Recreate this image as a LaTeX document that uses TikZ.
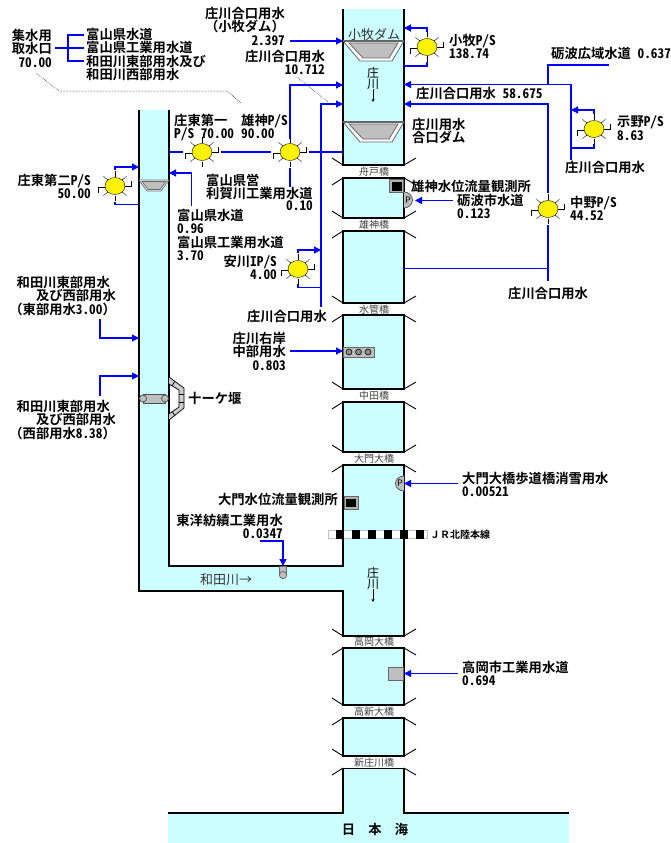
\documentclass[tikz,border=0pt]{standalone}
\usepackage{fontspec}
\setmainfont{Noto Sans CJK JP}
\newfontfamily\jpb[RawFeature=+hwid]{Noto Sans CJK JP Bold}
\newfontfamily\jpk{Noto Sans CJK JP Bold}
\newfontfamily\jpr{Noto Sans CJK JP}
\usetikzlibrary{arrows.meta,shapes.geometric}
\definecolor{river}{HTML}{CCFFFF}
\definecolor{pipe}{HTML}{0000FF}
\tikzset{
    lbl/.style={inner sep=0pt,font=\jpb\fontsize{13.3}{13.3}\selectfont,anchor=north west,align=left},
    lblr/.style={lbl,anchor=north east,align=right},
    brg/.style={inner sep=0pt,font=\jpr\fontsize{10}{10}\selectfont,text=black!75},
    pipeline/.style={draw=pipe,line width=1.2pt},
    pipearrow/.style={pipeline,-{Triangle[length=7pt,width=7pt]}},
    bank/.style={draw=black,line width=1.2pt},
    sun/.style={ellipse,draw=black,fill=yellow,minimum width=20pt,minimum height=17pt,inner sep=0pt},
    gauge/.style={draw=black!60,line width=.8pt,fill=black!30},
    weir/.style={draw=black!60,fill=black!25,line width=.8pt}
}
% pump station: position, name
\newcommand{\pumpsun}[2]{
    \node[sun] (#2) at #1 {};
    \foreach \a in {40,90,140,220,270,320}
    {
        \draw[black] (#2) ++(\a:9.5) -- ++(\a:5.5);
    }
    \draw[black,line width=.9pt] (#2.180) ++(0,1) -- ++(-6,0) -- ++(0,6);
    \draw[black,line width=.9pt] (#2.0) -- ++(6,0) -- ++(0,-5);
}
% section of the main river: top, bottom
\newcommand{\sect}[2]{
    \fill[river] (343,#1) rectangle (404,#2);
    \draw[bank] (343,#1) rectangle (404,#2);
    \draw[black,line width=.9pt] (343,#1) -- (332,#1+7);
    \draw[black,line width=.9pt] (404,#1) -- (416,#1+7);
    \draw[black,line width=.9pt] (343,#2) -- (332,#2-7);
    \draw[black,line width=.9pt] (404,#2) -- (416,#2-7);
}
\begin{document}
\begin{tikzpicture}[x=1pt,y=-1pt]
    \useasboundingbox (0,0) rectangle (670,843);
    % water
    \fill[river] (168,813) rectangle (569,843);
    \fill[river] (343,768) rectangle (404,813);
    \fill[river] (139,110) -- (169,110) -- (169,566) -- (343,566) -- (343,591) -- (139,591) -- cycle;
    \fill[river] (343,9) rectangle (404,165);
    \sect{178}{218}
    \sect{231}{303}
    \sect{315}{389}
    \sect{402}{452}
    \sect{465}{636}
    \sect{648}{705}
    \sect{718}{756}
    % banks with openings
    \fill[river] (342,567) rectangle (344,590);
    \draw[bank] (343,9) -- (343,165) -- (404,165) -- (404,9);
    \draw[black,line width=.9pt] (343,165) -- (332,158) (404,165) -- (416,158);
    \draw[bank] (139,110) -- (139,591) -- (343,591);
    \draw[bank] (169,110) -- (169,566) -- (343,566);
    \draw[black,line width=.6pt] (343,768) -- (404,768);
    \draw[bank] (343,768) -- (343,813) -- (168,813);
    \draw[bank] (404,768) -- (404,813) -- (569,813);
    \draw[black,line width=.9pt] (343,768) -- (332,775) (404,768) -- (416,775);
    % dams
    \foreach \y in {41,122}
    {
        \draw[draw=black!60,fill=white,line width=.8pt] (343,\y) -- (404,\y) -- (392,\y+20) -- (360,\y+20) -- cycle;
        \draw[draw=black!60,fill=black!25,line width=.8pt] (349,\y+2) -- (398,\y+2) -- (389,\y+17) -- (363,\y+17) -- cycle;
        \draw[black!60,line width=1.2pt] (343,\y) -- (404,\y);
    }
    \draw[draw=black!60,fill=white,line width=.7pt] (139,180) -- (169,180) -- (161,191) -- (147,191) -- cycle;
    \draw[draw=black!60,fill=black!25,line width=.7pt] (142,181.5) -- (166,181.5) -- (160,189.5) -- (148,189.5) -- cycle;
    % weir on Wada river
    \draw[draw=black!70,fill=black!25,line width=.7pt] (143,394) rectangle (165,403);
    \draw[draw=black!70,fill=black!25,line width=.7pt] (143,398.5) circle (3.5);
    \draw[draw=black!70,fill=black!25,line width=.7pt] (165,398.5) circle (3.5);
    \fill[black!20] (169,377) -- (184,388) -- (184,408) -- (169,420) -- (169,414) -- (179,407) -- (179,390) -- (169,384) -- cycle;
    \draw[black,line width=.7pt] (169,377) -- (184,388) -- (184,408) -- (169,420);
    \draw[black,line width=.7pt] (169,384) -- (179,390) -- (179,407) -- (169,414);
    \foreach \y in {394,402}
    {
        \draw[black,line width=.7pt] (179,\y) -- (184,\y);
    }
    \draw[black,line width=.7pt] (175,381) -- (172,386) (175,416) -- (172,411);
    % gauges and intakes
    \draw[gauge] (389.5,179.5) rectangle (403.5,192.5);
    \fill[black] (391.5,181.5) rectangle (401.5,190.5);
    \draw[gauge] (344,496.5) rectangle (358,509);
    \fill[black] (346,498.5) rectangle (356,507);
    \draw[draw=black!70,fill=black!25,line width=.7pt] (404,192) arc (-90:90:8.5 and 8);
    \node[inner sep=0pt,font=\jpr\fontsize{9}{9}\selectfont] (pToga) at (408,200) {P};
    \draw[draw=black!70,fill=black!25,line width=.7pt] (404,476) arc (-90:-270:8.5 and 7.5);
    \node[inner sep=0pt,font=\jpr\fontsize{9}{9}\selectfont] (pDaimon) at (400,483.5) {P};
    \draw[draw=black!60,fill=black!25,line width=.8pt] (343.5,347) rectangle (374,357);
    \foreach \x in {349,358.5,368}
    {
        \draw[fill=black!45,line width=.6pt] (\x,352) circle (3);
    }
    \draw[draw=black!60,fill=black!25,line width=.8pt] (388.5,667) rectangle (403.5,680);
    \draw[draw=black!60,fill=black!25,line width=.7pt] (279.5,566) rectangle (286.5,573);
    \draw[draw=black!60,fill=black!25,line width=.7pt] (283,575) circle (3.7);
    % railway
    \draw[draw=black!25,fill=white,line width=.5pt] (328,530) rectangle (427,538.5);
    \draw[black] (343,530) -- (343,538.5);
    \draw[black] (404,530) -- (404,538.5);
    \foreach \x in {336,352,...,416}
    {
        \fill[black] (\x,530) rectangle (\x+8,538.5);
    }
    \node[inner sep=0pt,anchor=west,font=\jpk\fontsize{10}{10}\selectfont] (lRail) at (430,534.5) {ＪＲ北陸本線};
    % pump stations
    \pumpsun{(202,152)}{psShotoA}
    \pumpsun{(290,152)}{psOgami}
    \pumpsun{(115,186)}{psShotoB}
    \pumpsun{(427,47)}{psKomaki}
    \pumpsun{(594,129)}{psShimeno}
    \pumpsun{(548,209)}{psNakano}
    \pumpsun{(298,269)}{psYasukawa}
    % pipes
    \coordinate (a1) at (169,152);
    \coordinate (a2) at (343,152);
    \draw[pipeline] (a1) -- (183,152) (221,152) -- (271,152) (309,152) -- (a2);
    \draw[pipeline] (290,168) -- (290,187);
    \draw[pipearrow] (290,139) -- (290,85) -- (343,85);
    \draw[pipearrow] (290,41) -- (343,41);
    \draw[pipearrow] (321,307) -- (321,104) -- (343,104);
    \draw[pipearrow] (191.5,206) -- (191.5,173) -- (169,173);
    \draw[pipearrow] (115,170) -- (115,167) -- (139,167);
    \draw[pipeline] (115,202) -- (115,204.5) -- (139,204.5);
    \draw[pipearrow] (427,32) -- (427,28) -- (404,28);
    \draw[pipeline] (427,62) -- (427,66) -- (404,66);
    \draw[pipearrow] (609,65) -- (548,65) -- (548,84.5) -- (404,84.5);
    \draw[pipeline] (548,84.5) -- (571,84.5) -- (571,160);
    \draw[pipearrow] (594,114) -- (594,110) -- (571,110);
    \draw[pipeline] (594,144) -- (594,148) -- (571,148);
    \draw[pipearrow] (548,193) -- (548,104) -- (404,104);
    \draw[pipeline] (548,225) -- (548,281);
    \draw[pipeline] (404,268.7) -- (548,268.7);
    \draw[pipearrow] (453,200.5) -- (415,200.5);
    \draw[pipearrow] (458,483.5) -- (404,483.5);
    \draw[pipearrow] (458,673.5) -- (404,673.5);
    \draw[pipearrow] (290,351) -- (343,351);
    \draw[pipearrow] (298,253) -- (298,250) -- (321,250);
    \draw[pipeline] (298,284) -- (298,287.5) -- (321,287.5);
    \draw[pipearrow] (100,319) -- (100,338) -- (139,338);
    \draw[pipearrow] (100,396) -- (100,376) -- (139,376);
    \draw[pipearrow] (260,541) -- (283,541) -- (283,566);
    \draw[pipeline] (55,48) -- (84,48) (84,35) -- (68,35) -- (68,61) -- (84,61);
    % leaders
    \draw[densely dotted,line width=.5pt] (36,73) -- (59,91) -- (227,91) -- (241,103);
    \draw[densely dotted,line width=.5pt] (297,77) -- (328,102);
    % labels
    \node[lblr] (lIntake) at (52,29) {集水用\\取水口\\70.00};
    \node[lbl] (lIntakeUse) at (86,28) {富山県水道\\富山県工業用水道\\和田川東部用水及び\\和田川西部用水};
    \node[lblr] (lKomakiGo) at (285,7) {庄川合口用水\\{\jpk（小牧ダム）}\\2.397};
    \node[lblr] (lGo10) at (325,50) {庄川合口用水\\10.712};
    \node[lbl] (lShotoA) at (174,114) {庄東第一\\P/S 70.00};
    \node[lbl] (lOgami) at (241,114) {雄神P/S\\90.00};
    \node[lblr] (lShotoB) at (91,174) {庄東第二P/S\\50.00};
    \node[lbl] (lToga) at (206,174) {富山県営\\利賀川工業用水道};
    \node[lblr] (lTogaVal) at (313,201) {0.10};
    \node[lbl] (lToyama) at (177,209) {富山県水道\\0.96\\富山県工業用水道\\3.70};
    \node[lblr] (lYasukawa) at (277,255) {安川IP/S\\4.00};
    \node[lblr] (lGoC) at (327,310) {庄川合口用水};
    \node[lblr] (lWadaE) at (116,276) {和田川東部用水\hspace*{6pt}\\及び西部用水\hspace*{6pt}\\{\jpk（東部用水}3.00{\jpk）}};
    \node[lblr] (lWadaW) at (116,400) {和田川東部用水\hspace*{6pt}\\及び西部用水\hspace*{6pt}\\{\jpk（西部用水}8.38{\jpk）}};
    \node[lblr] (lRight) at (286,332) {庄川右岸\\中部用水\\0.803};
    \node[lbl] (lWeir) at (188,392) {十{\jpk ーケ}堰};
    \node[lbl] (lKomaki) at (449,34) {小牧P/S\\138.74};
    \node[lbl] (lTonamiW) at (551,47) {砺波広域水道 0.637};
    \node[lbl] (lGoMain) at (416,87) {庄川合口用水 58.675};
    \node[lbl] (lShimeno) at (617,116) {示野P/S\\8.63};
    \node[lbl] (lGoDam) at (412,118) {庄川用水\\合口{\jpk ダム}};
    \node[lbl] (lGoD) at (565,161) {庄川合口用水};
    \node[lbl] (lOgamiObs) at (411,180) {雄神水位流量観測所};
    \node[lbl] (lTonami) at (457,194) {砺波市水道\\0.123};
    \node[lbl] (lNakano) at (570,196) {中野P/S\\44.52};
    \node[lbl] (lGoE) at (508,287) {庄川合口用水};
    \node[lbl] (lDaimonP) at (462,472) {大門大橋歩道橋消雪用水\\0.00521};
    \node[lbl] (lTakaoka) at (462,661) {高岡市工業用水道\\0.694};
    \node[lblr] (lDaimonObs) at (338,493) {大門水位流量観測所};
    \node[lblr] (lToyobo) at (283,514) {東洋紡績工業用水\\0.0347};
    \node[inner sep=0pt,font=\jpk\fontsize{13.3}{13.3}\selectfont] (lSea) at (375,829) {日　本　海};
    % names on the water
    \node[inner sep=0pt,font=\jpr\fontsize{13}{13}\selectfont,text=black!80] (lDam) at (374,35) {小牧ダム};
    \node[inner sep=0pt,font=\jpr\fontsize{13}{13}\selectfont,text=black!80] (lWada) at (226,580) {和田川→};
    \foreach \y/\n in {73/A,573/B}
    {
        \node[inner sep=0pt,font=\jpr\fontsize{12}{12}\selectfont] (lSho\n) at (373,\y) {庄};
        \node[inner sep=0pt,font=\jpr\fontsize{12}{12}\selectfont] (lKawa\n) at (373,\y+11) {川};
        \draw[-{Stealth[length=3pt,width=3pt]},line width=.5pt] (lKawa\n) -- (373,\y+29);
    }
    % bridges
    \node[brg] (b1) at (374,172) {舟戸橋};
    \node[brg] (b2) at (374,225) {雄神橋};
    \node[brg] (b3) at (374,309.5) {水管橋};
    \node[brg] (b4) at (374,395.5) {中田橋};
    \node[brg] (b5) at (374,458.5) {大門大橋};
    \node[brg] (b6) at (374,642) {高岡大橋};
    \node[brg] (b7) at (374,712) {高新大橋};
    \node[brg] (b8) at (374,762.5) {新庄川橋};
\end{tikzpicture}
\end{document}
